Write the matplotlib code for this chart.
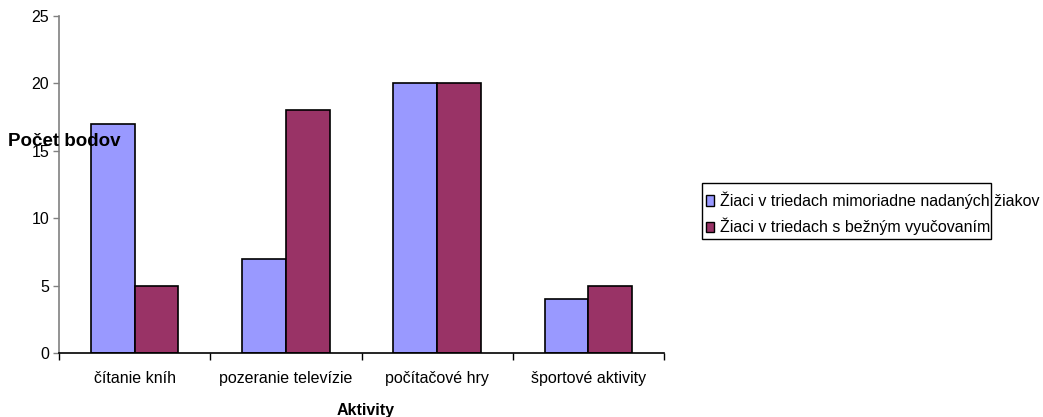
import matplotlib
matplotlib.use("Agg")
import matplotlib.pyplot as plt
from matplotlib.patches import Patch, Rectangle
import numpy as np

plt.rcParams['font.family'] = ['Liberation Sans', 'DejaVu Sans']

categories = ["čítanie kníh", "pozeranie televízie", "počítačové hry", "športové aktivity"]
series_names = ["Žiaci v triedach mimoriadne nadaných žiakov", "Žiaci v triedach s bežným vyučovaním"]
gifted = [17, 7, 20, 4]
regular = [5, 18, 20, 5]
colors = ["#9999FF", "#993366"]

W, H = 1043, 417
fig = plt.figure(figsize=(W / 100, H / 100), dpi=100)
ax = fig.add_axes([59 / W, 1 - 353 / H, (664 - 59) / W, (353 - 16) / H])

x = np.arange(len(categories))
bw = 0.29
ax.bar(x - bw / 2, gifted, bw, color=colors[0], edgecolor="black", linewidth=1.2)
ax.bar(x + bw / 2, regular, bw, color=colors[1], edgecolor="black", linewidth=1.2)

ax.set_xlim(-0.5, len(categories) - 0.5)
ax.set_ylim(0, 25)
ax.set_yticks(range(0, 26, 5))
ax.set_xticks(x)
ax.set_xticklabels(categories, fontsize=11.5)
ax.set_xticks(np.arange(-0.5, len(categories), 1), minor=True)
ax.tick_params(axis='x', which='major', length=0, pad=13)
ax.tick_params(axis='x', which='minor', length=5, width=1, color='black', direction='out')
ax.tick_params(axis='y', length=4, width=1, color='#808080', labelsize=11.5, pad=3)
for s in ['top', 'right']:
    ax.spines[s].set_visible(False)
ax.spines['left'].set_color('#808080')
ax.spines['left'].set_linewidth(1.2)
ax.spines['bottom'].set_color('black')
ax.spines['bottom'].set_linewidth(1.2)

fig.text(8 / W, 1 - 142 / H, "Počet bodov", fontsize=13.5, fontweight='bold', va='center', ha='left')
fig.text(366 / W, 1 - 410 / H, "Aktivity", fontsize=11.5, fontweight='bold', va='center', ha='center')

# legend frame (text overflows the frame as in the original)
fig.patches.append(Rectangle((702 / W, 1 - 239 / H), (991 - 702) / W, (239 - 183) / H,
                             transform=fig.transFigure, fill=False, edgecolor='black', linewidth=1))
handles = [Patch(facecolor=c, edgecolor='black', linewidth=1) for c in colors]
fig.legend(handles, series_names, loc='center left', bbox_to_anchor=(706 / W, 1 - 213.5 / H),
           frameon=False, fontsize=11.5, handlelength=0.5, handleheight=0.6,
           handletextpad=0.4, labelspacing=0.55, borderpad=0, borderaxespad=0)

fig.savefig("out.png", dpi=100)
